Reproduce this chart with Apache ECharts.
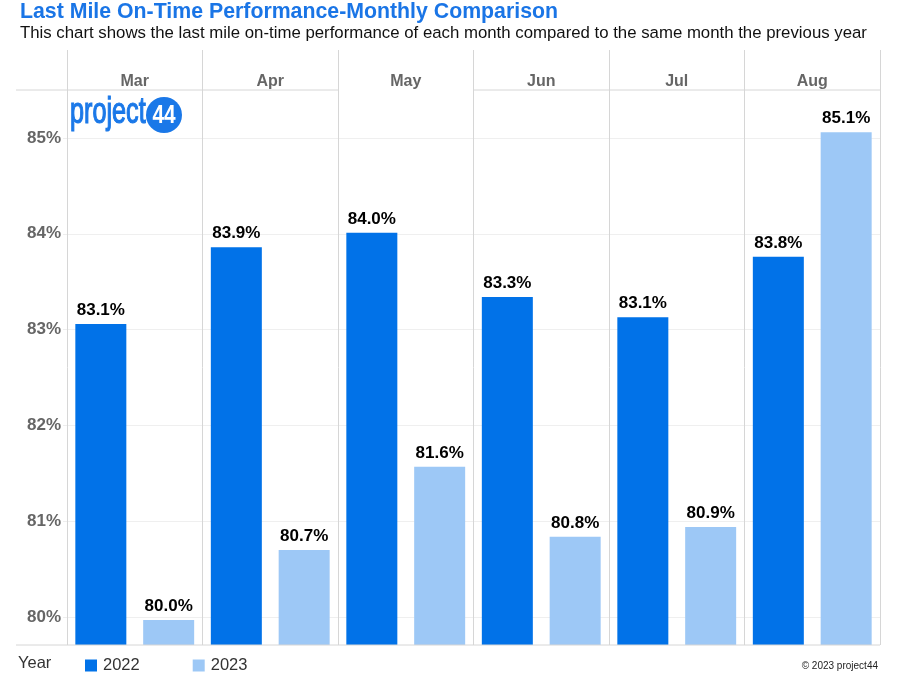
<!DOCTYPE html>
<html>
<head>
<meta charset="utf-8">
<script src="https://cdn.jsdelivr.net/npm/echarts@6/dist/echarts.min.js"></script>
<style>
html,body{margin:0;padding:0;background:#fff;}
#chart{width:900px;height:681px;}
</style>
</head>
<body>
<div id="chart"></div>
<script>
// ---- data ----
const months = ['Mar', 'Apr', 'May', 'Jun', 'Jul', 'Aug'];
const years = ['2022', '2023'];
const values2022 = [83.06, 83.86, 84.01, 83.34, 83.13, 83.76];
const values2023 = [79.97, 80.70, 81.57, 80.84, 80.94, 85.06];
const yTickLabels = ['80%', '81%', '82%', '83%', '84%', '85%'];

const FONT = "'Liberation Sans', Arial, sans-serif";
const GRID = {left: 67, right: 20, top: 90, bottom: 36};
const W = 900, H = 681;
const lineColor = '#d6d6d6';

const chart = echarts.init(document.getElementById('chart'), null, {renderer: 'canvas'});

const colW = (W - GRID.left - GRID.right) / months.length;
const yTop = GRID.top, yBot = H - GRID.bottom;

const option = {
  backgroundColor: '#fff',
  animation: false,
  textStyle: {fontFamily: FONT},
  title: {
    text: 'Last Mile On-Time Performance-Monthly Comparison',
    subtext: 'This chart shows the last mile on-time performance of each month compared to the same month the previous year',
    left: 17, top: 0, itemGap: 2, padding: [2, 0, 0, 3],
    textStyle: {fontFamily: FONT, fontSize: 21.3, fontWeight: 'bold', color: '#1a75e6'},
    subtextStyle: {fontFamily: FONT, fontSize: 16.8, color: '#111'}
  },
  legend: {
    data: years, left: 85, top: 657, icon: 'rect', itemWidth: 12, itemHeight: 12,
    itemGap: 53, padding: 0,
    textStyle: {fontFamily: FONT, fontSize: 16.5, color: '#333', padding: [0, 0, 0, 1]}
  },
  grid: {left: GRID.left, right: GRID.right, top: GRID.top, bottom: GRID.bottom, containLabel: false},
  xAxis: {
    type: 'category', data: months, position: 'top',
    axisLine: {show: false},
    axisTick: {show: true, length: 40, lineStyle: {color: lineColor}},
    axisLabel: {fontFamily: FONT, fontSize: 16, fontWeight: 'bold', color: '#666', margin: 0},
    splitLine: {show: true, lineStyle: {color: lineColor}}
  },
  yAxis: {
    type: 'value', min: 79.71, max: 85.5,
    axisLine: {show: false},
    axisTick: {show: true, length: 4, lineStyle: {color: '#eee'}},
    axisLabel: {
      fontFamily: FONT, fontSize: 17, fontWeight: 'bold', color: '#666', margin: 6,
      showMinLabel: false, showMaxLabel: false,
      formatter: v => {
        const i = Math.round(v) - 80;
        return (Math.abs(v - Math.round(v)) < 1e-6 && yTickLabels[i]) ? yTickLabels[i] : '';
      }
    },
    splitLine: {show: true, showMinLine: false, showMaxLine: false, lineStyle: {color: '#efefef'}}
  },
  series: [
    {
      name: years[0], type: 'bar', data: values2022, barWidth: 51, barGap: '33%',
      itemStyle: {color: '#0172e8'},
      label: {show: true, position: 'top', distance: 5, fontFamily: FONT, fontSize: 17, fontWeight: 'bold', color: '#000',
        formatter: p => p.value.toFixed(1) + '%'}
    },
    {
      name: years[1], type: 'bar', data: values2023, barWidth: 51,
      itemStyle: {color: '#9dc8f6'},
      label: {show: true, position: 'top', distance: 5, fontFamily: FONT, fontSize: 17, fontWeight: 'bold', color: '#000',
        formatter: p => p.value.toFixed(1) + '%'}
    }
  ],
  graphic: [
    // header separator line (absent under May column)
    {type: 'line', z: 10, shape: {x1: 16, y1: yTop, x2: GRID.left + colW * 2, y2: yTop}, style: {stroke: lineColor, lineWidth: 1}},
    {type: 'line', z: 10, shape: {x1: GRID.left + colW * 3, y1: yTop, x2: W - GRID.right, y2: yTop}, style: {stroke: lineColor, lineWidth: 1}},
    // bottom line
    {type: 'line', z: 10, shape: {x1: 16, y1: yBot, x2: W - GRID.right, y2: yBot}, style: {stroke: lineColor, lineWidth: 1}},
    // legend title
    {type: 'text', left: 18, top: 655, style: {text: 'Year', font: '16.5px ' + FONT, fill: '#333'}},
    // copyright
    {type: 'text', right: 22, top: 661, style: {text: '\u00a9 2023 project44', font: '10px ' + FONT, fill: '#222'}},
    // logo
    {type: 'text', x: 70, y: 95, scaleX: 0.7, z: 20,
      style: {text: 'project', font: '36px ' + FONT, fill: '#1a78e8', stroke: '#1a78e8', lineWidth: 1.2}},
    {type: 'circle', z: 20, shape: {cx: 164, cy: 115, r: 18}, style: {fill: '#1a78e8'}},
    {type: 'text', z: 21, x: 164, y: 116, scaleX: 0.8,
      style: {text: '44', font: 'bold 26px ' + FONT, fill: '#fff', align: 'center', verticalAlign: 'middle'}}
  ]
};
chart.setOption(option);
</script>
</body>
</html>
